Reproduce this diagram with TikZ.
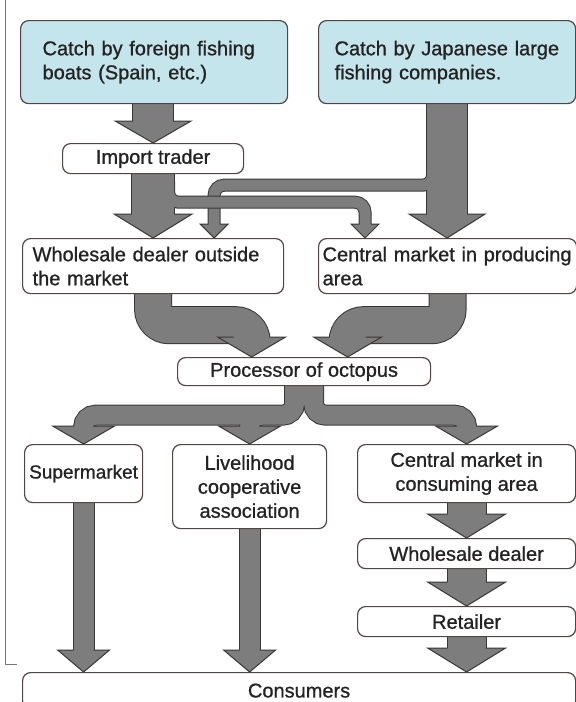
\documentclass[tikz,border=0pt]{standalone}
\usepackage{fontspec}
\setmainfont{Liberation Sans}[FakeBold=0.9]
\usetikzlibrary{calc,backgrounds}

\definecolor{boxblue}{RGB}{196,229,236}
\definecolor{boxline}{RGB}{80,70,68}
\definecolor{flowgray}{RGB}{126,125,125}
\definecolor{flowrim}{RGB}{58,54,54}
\definecolor{framegray}{RGB}{120,118,118}
\definecolor{ink}{RGB}{36,34,34}

\tikzset{
  box/.style={draw=boxline, line width=1.2pt, rounded corners=8pt, fill=white, text=ink,
    font=\fontsize{20}{24}\selectfont, anchor=north west, inner ysep=0pt},
  catchbox/.style={box, fill=boxblue},
  rim/.style={draw=flowrim, line width=#1+2},
  core/.style={draw=flowgray, line width=#1},
  headrim/.style={draw=flowrim, line width=1pt},
}

% fat arrow body: dark outline first, grey on top
\newcommand{\flow}[3][12pt]{%
  \draw[rim=#2, rounded corners=#1] #3;
  \draw[core=#2, rounded corners=#1] #3;}
% fat arrow head: tip, shaft width, head width, head length
\newcommand{\fathead}[4]{%
  \coordinate (ht) at (#1);
  \fill[flowgray] (ht) -- ++({-#3/2},{-#4}) -- ++(#3,0) -- cycle;
  \draw[headrim] ($(ht)+({-#2/2},{-#4})$) -- ++({-(#3-#2)/2},0) -- (ht)
    -- ++({#3/2},{-#4}) -- ++({-(#3-#2)/2},0);}

\begin{document}
\begin{tikzpicture}[x=1pt,y=-1pt]
\useasboundingbox (0,0) rectangle (576,702);

% sources
\node[catchbox, text width=223pt, inner xsep=22pt, minimum height=83pt, align=left] (catchA) at (20,20) {Catch by foreign fishing\\boats (Spain, etc.)};
\node[catchbox, text width=225pt, inner xsep=16pt, minimum height=83pt, align=left] (catchB) at (318,20) {Catch by Japanese large\\fishing companies.};
\node[box, minimum width=181pt, minimum height=30pt] (imptr) at (62,143) {Import trader};
\node[box, text width=241pt, inner xsep=10pt, minimum height=55pt, align=left] (wsout) at (22,238) {Wholesale dealer outside\\the market};
\node[box, text width=250pt, inner xsep=4pt, minimum height=55pt, align=left] (cmprod) at (318,238) {Central market in producing\\area};
\node[box, minimum width=253pt, minimum height=28pt] (proc) at (177,357) {Processor of octopus};
% outlets
\node[box, minimum width=118pt, minimum height=58pt, inner xsep=1pt, font=\fontsize{19}{23}\selectfont] (superm) at (24,444) {Supermarket};
\node[box, minimum width=154pt, minimum height=84pt, align=center] (livel) at (172,444) {Livelihood\\cooperative\\association};
\node[box, minimum width=218pt, minimum height=58pt, align=center] (cmcons) at (357,444) {Central market in\\consuming area};
\node[box, minimum width=218pt, minimum height=30pt] (whdeal) at (357,538) {Wholesale dealer};
\node[box, minimum width=218pt, minimum height=30pt] (retail) at (357,606) {Retailer};
\node[box, minimum width=553pt, minimum height=36pt] (consum) at (22,672) {Consumers};

\coordinate (wsin) at ($(wsout.north)+(61,0)$);
\coordinate (cpin) at ($(cmprod.north west)+(47,0)$);
\coordinate (procL) at ($(proc.north)+(-52.5,0)$);
\coordinate (procR) at ($(proc.north)+(43.5,0)$);

\begin{pgfonlayer}{background}
\fill[white] (0,0) rectangle (576,702);
\draw[framegray, line width=1pt] (5,-2) |- (17,664);

% foreign catch into the import trader
\flow{40}{($(imptr.north |- catchA.south)+(0,-4)$) -- ($(imptr.north)+(0,-18)$)}

% Japanese catch, side stream to the wholesale dealer
\draw[rim=40] ($(catchB.south)+(0,-4)$) -- ($(catchB.south |- cmprod.north)+(0,-20)$);
\draw[rim=11, rounded corners=10pt] ($(catchB.south)+(-14.5,57)$) -- ++(0,24) -| ($(wsin)+(0,-10)$);
\draw[core=40] ($(catchB.south)+(0,-4)$) -- ($(catchB.south |- cmprod.north)+(0,-20)$);
\draw[core=11, rounded corners=10pt] ($(catchB.south)+(-14.5,57)$) -- ++(0,24) -| ($(wsin)+(0,-10)$);

% import trader, side stream to the producing area market
\draw[rim=42] ($(imptr.south)+(0,-4)$) -- ($(imptr.south |- wsout.north)+(0,-20)$);
\draw[rim=11, rounded corners=10pt] ($(imptr.south)+(15.5,7)$) -- ++(0,21) -| ($(cpin)+(0,-10)$);
\draw[core=42] ($(imptr.south)+(0,-4)$) -- ($(imptr.south |- wsout.north)+(0,-20)$);
\draw[core=11, rounded corners=10pt] ($(imptr.south)+(15.5,7)$) -- ++(0,21) -| ($(cpin)+(0,-10)$);

% both into the processor
\flow[16pt]{36}{($(wsout.south)+(0,-4)$) -- ++(0,35) -| ($(procL)+(0,-13)$)}
\flow[16pt]{36}{($(cmprod.south)+(0,-4)$) -- ++(0,35) -| ($(procR)+(0,-13)$)}

% processor splits three ways
\flow{19}{($(proc.south)+(-9.5,-4)$) -- ++(0,33) -| ($(superm.north)+(0,-14)$)
  ($(proc.south)+(-9.5,10)$) -- ++(0,19) -| ($(livel.north)+(0,-14)$)
  ($(proc.south)+(9.5,-4)$) -- ++(0,33) -| ($(cmcons.north)+(0,-14)$)}

% down to the consumers
\flow{20}{($(superm.south)+(0,-4)$) -- ($(superm.south |- consum.north)+(0,-18)$)
  ($(livel.south)+(0,-4)$) -- ($(livel.south |- consum.north)+(0,-18)$)}
\flow{38}{($(cmcons.south)+(0,-4)$) -- ($(whdeal.north)+(0,-20)$)
  ($(whdeal.south)+(0,-4)$) -- ($(retail.north)+(0,-20)$)
  ($(retail.south)+(0,-4)$) -- ($(retail.south |- consum.north)+(0,-20)$)}

% heads
\fathead{imptr.north}{40}{76}{22}
\fathead{catchB.south |- cmprod.north}{40}{76}{24}
\fathead{wsin}{11}{28}{14}
\fathead{imptr.south |- wsout.north}{42}{78}{24}
\fathead{cpin}{11}{28}{14}
\fathead{procL}{36}{68}{20}
\fathead{procR}{36}{68}{20}
\fathead{superm.north}{19}{62}{18}
\fathead{livel.north}{19}{62}{18}
\fathead{cmcons.north}{19}{62}{18}
\fathead{superm.south |- consum.north}{20}{52}{22}
\fathead{livel.south |- consum.north}{20}{52}{22}
\fathead{whdeal.north}{38}{78}{24}
\fathead{retail.north}{38}{78}{24}
\fathead{retail.south |- consum.north}{38}{78}{24}
\end{pgfonlayer}
\end{tikzpicture}
\end{document}
